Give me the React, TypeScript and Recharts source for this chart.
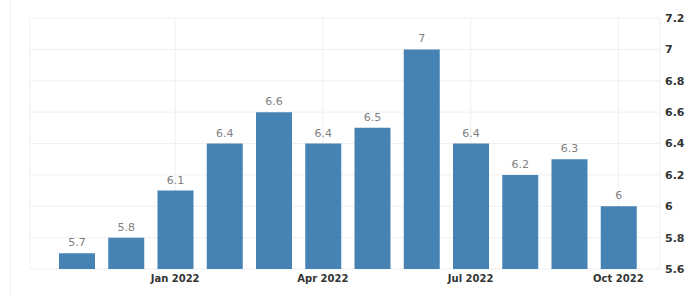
import React from 'react';
import {
  BarChart,
  Bar,
  XAxis,
  YAxis,
  CartesianGrid,
  LabelList,
} from 'recharts';

const months = [
  'Nov 2021', 'Dec 2021', 'Jan 2022', 'Feb 2022', 'Mar 2022', 'Apr 2022',
  'May 2022', 'Jun 2022', 'Jul 2022', 'Aug 2022', 'Sep 2022', 'Oct 2022',
];
const rates = [5.7, 5.8, 6.1, 6.4, 6.6, 6.4, 6.5, 7, 6.4, 6.2, 6.3, 6];
const xTicks = ['Jan 2022', 'Apr 2022', 'Jul 2022', 'Oct 2022'];
const yTicks = [5.6, 5.8, 6, 6.2, 6.4, 6.6, 6.8, 7, 7.2];

const data = months.map((month, i) => ({ month, value: rates[i] }));

const font = '"DejaVu Sans", sans-serif';

export default function App() {
  return (
    <div style={{ position: 'relative', width: 700, height: 296, background: '#fff' }}>
      <style>{`body{margin:0}`}</style>
      <div style={{ position: 'absolute', left: 10, top: 0, width: 1, height: 296, background: '#f2f2f2' }} />
      <BarChart
        width={700}
        height={296}
        data={data}
        margin={{ top: 18, right: 0, left: 30, bottom: 0 }}
        barSize={36}
      >
        <CartesianGrid stroke="#efefef" />
        <XAxis
          dataKey="month"
          ticks={xTicks}
          interval={0}
          height={27}
          padding={{ left: 22, right: 17 }}
          axisLine={false}
          tickLine={false}
          tickSize={0}
          tickMargin={6}
          tick={{ fill: '#333', fontSize: 10, fontFamily: font, fontWeight: 600 }}
        />
        <YAxis
          orientation="right"
          domain={[5.6, 7.2]}
          ticks={yTicks}
          width={40}
          axisLine={false}
          tickLine={false}
          tickSize={0}
          tickMargin={5}
          tick={{ fill: '#333', fontSize: 11, fontFamily: font, fontWeight: 600 }}
        />
        <Bar dataKey="value" fill="#4682b4" isAnimationActive={false}>
          <LabelList
            dataKey="value"
            position="top"
            offset={7}
            fill="#808080"
            fontSize={11}
            fontFamily={font}
          />
        </Bar>
      </BarChart>
    </div>
  );
}
